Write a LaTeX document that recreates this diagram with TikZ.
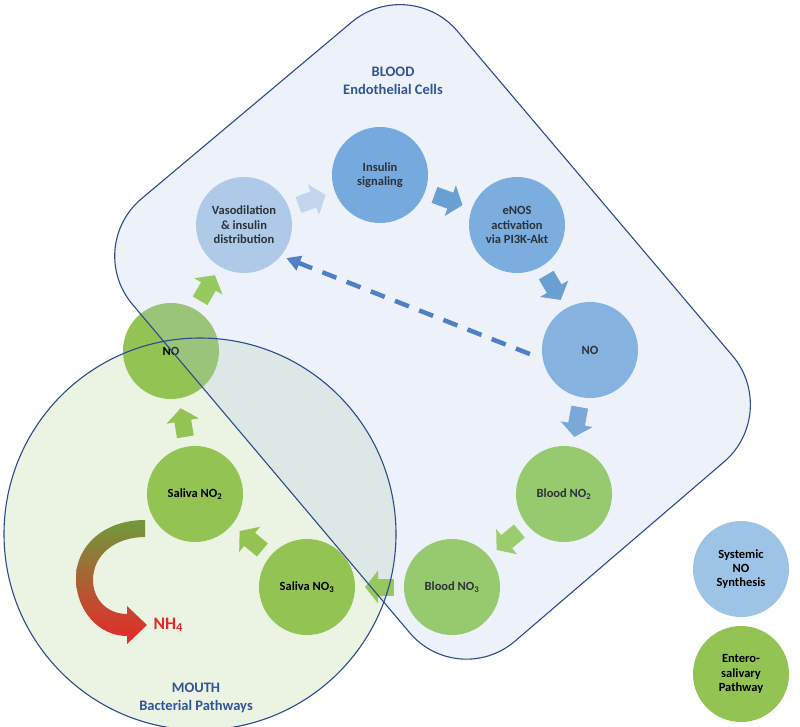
\documentclass[tikz,border=0pt]{standalone}
\usepackage{fontspec}
\setmainfont{Carlito}
\usetikzlibrary{arrows.meta}

\definecolor{edgeblue}{HTML}{2E4A8B}
\definecolor{areablue}{HTML}{2F5597}
\definecolor{bloodfill}{HTML}{B2C8EB}
\definecolor{mouthfill}{HTML}{EBF3E3}
\definecolor{vasoblue}{HTML}{ADCCE8}
\definecolor{insblue}{HTML}{62A0DA}
\definecolor{enosblue}{HTML}{6AA4DB}
\definecolor{noblue}{HTML}{78ABDC}
\definecolor{cgreen}{HTML}{92C353}
\definecolor{bgreen}{HTML}{8FCC46}
\definecolor{legblue}{HTML}{9DC3E6}
\definecolor{txt}{HTML}{000000}
\definecolor{nhred}{HTML}{E8262A}
\definecolor{nhgreen}{HTML}{6F9A3C}
\definecolor{nhbrown}{HTML}{B0452C}
\definecolor{dashblue}{HTML}{4F7FC4}

\begin{document}
\begin{tikzpicture}[x=1pt,y=-1pt,
    circ/.style={circle,minimum size=96pt,inner sep=0pt,outer sep=0pt,
        align=center,text=txt,font=\bfseries\fontsize{12.5}{14.4}\selectfont},
    flow/.style={line width=17pt,shorten <=10pt,shorten >=10pt,
        -{Triangle[length=13pt,width=32pt]}},
    areatext/.style={text=areablue,align=center,font=\bfseries\fontsize{14.5}{18}\selectfont}]
    \useasboundingbox (0,0) rectangle (800,726);
    %Munn
        \fill[mouthfill] (200,534) circle (196pt);
    %Sirkler
        \node[circ,fill=vasoblue] (vaso) at (244,225) {Vasodilation\\\& insulin\\distribution};
        \node[circ,fill=insblue] (ins) at (380,175) {Insulin\\signaling};
        \node[circ,fill=enosblue] (enos) at (517,225) {eNOS\\activation\\via PI3K-Akt};
        \node[circ,fill=noblue] (noB) at (590,350) {NO};
        \node[circ,fill=bgreen] (bno2) at (564,494) {Blood NO\textsubscript{2}};
        \node[circ,fill=bgreen] (bno3) at (452,587) {Blood NO\textsubscript{3}};
        \node[circ,fill=cgreen] (sno3) at (307,587) {Saliva NO\textsubscript{3}};
        \node[circ,fill=cgreen] (sno2) at (195,494) {Saliva NO\textsubscript{2}};
        \node[circ,fill=cgreen] (noG) at (171,351) {NO};
    %Blod
        \fill[bloodfill,fill opacity=0.25,rounded corners=75pt]
            (246.5,110.5) -- (409,-26) -- (781,413) -- (458,690) -- (84,247) -- cycle;
    %Piler
        \draw[flow,color={rgb,255:red,195;green,213;blue,236}] (vaso) -- (ins);
        \draw[flow,color={rgb,255:red,106;green,159;blue,210}] (ins) -- (enos);
        \draw[flow,color={rgb,255:red,106;green,159;blue,210}] (enos) -- (noB);
        \draw[flow,color={rgb,255:red,122;green,168;blue,217}] (noB) -- (bno2);
        \draw[flow,color={rgb,255:red,155;green,205;blue,108}] (bno2) -- (bno3);
        \draw[flow,color={rgb,255:red,150;green,200;blue,92}] (bno3) -- (sno3);
        \draw[flow,color=cgreen] (sno3) -- (sno2);
        \draw[flow,color=cgreen] (sno2) -- (noG);
        \draw[flow,color={rgb,255:red,150;green,202;blue,95}] (noG) -- (vaso);
        \draw[dashblue,line width=4.5pt,dash pattern=on 15pt off 11pt,
            shorten <=14pt,shorten >=6pt,-{Triangle[length=14pt,width=15pt]}]
            (noB.191) -- (vaso.320);
    %NH4
        \shade[top color=nhgreen,middle color=nhbrown,bottom color=nhred]
            (145,520) .. controls (105,520) and (76,545) .. (76,578)
            .. controls (76,612) and (100,636) .. (127,636)
            -- (127,644) -- (147,625) -- (127,606) -- (127,614)
            .. controls (108,614) and (93,600) .. (93,580)
            .. controls (93,555) and (115,537) .. (145,537) -- cycle;
        \node[anchor=west,text=nhred,font=\bfseries\fontsize{17.5}{20}\selectfont] (nh4) at (150,625) {NH\textsubscript{4}};
    %Kanter
        \draw[edgeblue,line width=1.1pt,rounded corners=75pt]
            (246.5,110.5) -- (409,-26) -- (781,413) -- (458,690) -- (84,247) -- cycle;
        \draw[edgeblue,line width=1.1pt] (200,534) circle (196pt);
    %Tekst
        \node[areatext] (blood) at (393,81) {BLOOD\\Endothelial Cells};
        \node[areatext] (mouth) at (196,698) {MOUTH\\Bacterial Pathways};
    %Forklaring
        \node[circ,fill=legblue] (leg1) at (741,569) {Systemic\\NO\\Synthesis};
        \node[circ,fill=cgreen] (leg2) at (741,674) {Entero-\\salivary\\Pathway};
\end{tikzpicture}
\end{document}
